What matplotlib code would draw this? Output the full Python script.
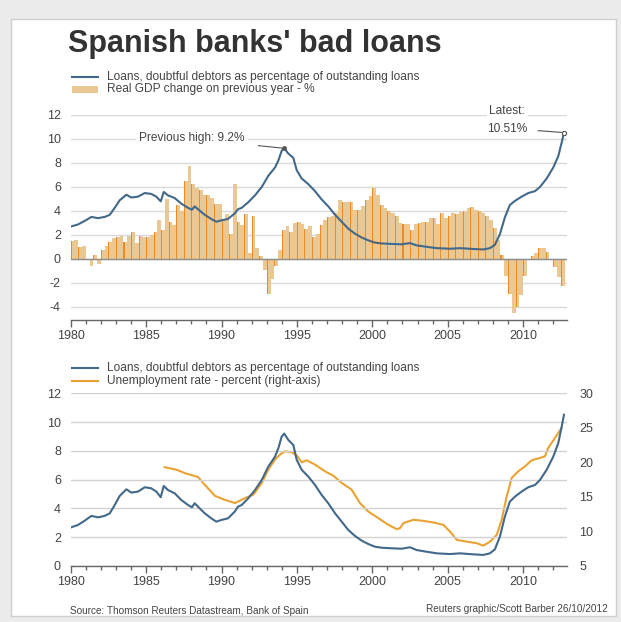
import matplotlib
matplotlib.use("Agg")
import matplotlib.pyplot as plt
import numpy as np
from matplotlib.lines import Line2D
from matplotlib.patches import Rectangle
from matplotlib.ticker import MultipleLocator, FixedLocator

plt.rcParams['font.family'] = ['Liberation Sans', 'DejaVu Sans']
plt.rcParams['axes.unicode_minus'] = False

# ---------------- data ----------------
loans_year = [1980.04, 1980.48, 1980.93, 1981.37, 1981.81, 1982.25, 1982.59, 1982.92, 1983.25, 1983.69,
              1984.02, 1984.46, 1984.91, 1985.34, 1985.68, 1985.97, 1986.17, 1986.45, 1986.90, 1987.33,
              1987.78, 1988.04, 1988.22, 1988.55, 1988.89, 1989.32, 1989.66, 1989.99, 1990.43, 1990.88,
              1991.09, 1991.34, 1991.78, 1992.22, 1992.67, 1993.10, 1993.55, 1993.77, 1993.99, 1994.16,
              1994.43, 1994.76, 1994.99, 1995.32, 1995.76, 1996.2, 1996.64, 1997.08, 1997.53, 1997.97,
              1998.41, 1998.85, 1999.30, 1999.73, 2000.18, 2000.62, 2001.29, 2001.95, 2002.5, 2002.94,
              2003.61, 2004.27, 2005.15, 2005.82, 2006.7, 2007.36, 2007.8, 2008.13, 2008.46, 2008.79,
              2009.12, 2009.46, 2009.9, 2010.34, 2010.79, 2011.12, 2011.56, 2012.0, 2012.33, 2012.56, 2012.71]
loans_val = [2.69, 2.85, 3.15, 3.48, 3.38, 3.48, 3.66, 4.24, 4.87, 5.33,
             5.1, 5.17, 5.47, 5.4, 5.17, 4.78, 5.56, 5.28, 5.05, 4.59,
             4.24, 4.08, 4.36, 4.01, 3.66, 3.31, 3.08, 3.2, 3.31, 3.78,
             4.12, 4.24, 4.71, 5.28, 5.98, 6.9, 7.6, 8.18, 8.99, 9.2,
             8.76, 8.41, 7.37, 6.68, 6.21, 5.63, 4.94, 4.36, 3.66, 3.08,
             2.5, 2.09, 1.76, 1.53, 1.34, 1.27, 1.23, 1.2, 1.3, 1.11,
             0.99, 0.88, 0.83, 0.88, 0.81, 0.77, 0.88, 1.16, 2.04, 3.43,
             4.47, 4.82, 5.17, 5.47, 5.63, 5.98, 6.68, 7.6, 8.53, 9.69, 10.51]

# quarterly real GDP change, 1980Q1 .. 2012Q3
gdp_start = 1980.0
gdp_val = [1.5, 1.6, 1.0, 1.1,   -0.1, -0.6, 0.3, -0.4,   0.7, 1.1, 1.4, 1.7,   1.8, 1.9, 1.4, 1.9,
           2.2, 1.3, 1.9, 1.8,   1.8, 2.0, 2.2, 3.2,     2.4, 5.0, 3.1, 2.8,   4.5, 4.0, 6.5, 7.7,
           6.2, 5.9, 5.7, 5.3,   5.3, 5.1, 4.6, 4.6,     3.2, 3.7, 2.1, 6.2,   3.1, 2.8, 3.7, 0.5,
           3.6, 0.9, 0.2, -0.9,  -2.9, -1.7, -0.6, 0.7,  2.4, 2.7, 2.2, 3.0,   3.1, 2.9, 2.5, 2.7,
           1.8, 2.1, 2.8, 3.2,   3.5, 3.6, 3.8, 4.9,     4.7, 4.7, 4.7, 4.1,   4.1, 4.4, 4.9, 5.2,
           5.9, 5.3, 4.5, 4.2,   4.0, 3.8, 3.6, 3.0,     2.9, 2.9, 2.4, 2.9,   3.0, 3.1, 3.1, 3.4,
           3.4, 2.9, 3.8, 3.4,   3.6, 3.8, 3.7, 3.9,     4.0, 4.2, 4.3, 4.1,   4.0, 3.8, 3.6, 3.2,
           2.6, 1.6, 0.3, -1.4,  -2.9, -4.5, -4.0, -3.0, -1.4, -0.1, 0.2, 0.5, 0.9, 0.9, 0.6, 0.0,
           -0.7, -1.5, -2.3]

unemp_year = [1986.23, 1987.0, 1987.67, 1988.44, 1988.89, 1989.55, 1990.21, 1990.9, 1991.56, 1992.11,
              1992.67, 1993.1, 1993.55, 1993.88, 1994.21, 1994.66, 1994.99, 1995.32, 1995.65, 1996.2,
              1996.86, 1997.41, 1997.97, 1998.63, 1999.18, 1999.73, 2000.4, 2001.06, 2001.62, 2001.84,
              2002.06, 2002.72, 2003.38, 2004.05, 2004.71, 2005.15, 2005.6, 2006.26, 2006.92, 2007.36,
              2007.81, 2008.25, 2008.58, 2008.91, 2009.24, 2009.68, 2010.13, 2010.57, 2011.12, 2011.45,
              2011.67, 2012.12, 2012.56]
unemp_val = [19.3, 18.95, 18.37, 17.89, 16.77, 15.17, 14.59, 14.11, 14.84, 15.32,
             17.02, 18.95, 20.41, 21.13, 21.61, 21.47, 20.99, 20.01, 20.3, 19.68,
             18.71, 18.08, 17.02, 16.05, 14.11, 12.89, 11.93, 10.96, 10.33, 10.48,
             11.2, 11.69, 11.54, 11.3, 10.96, 9.99, 8.78, 8.53, 8.3, 7.95,
             8.53, 9.51, 11.69, 15.07, 17.75, 18.71, 19.43, 20.3, 20.65, 20.89,
             22.1, 23.56, 25.01]

year_ticks = [1980, 1985, 1990, 1995, 2000, 2005, 2010]
top_yticks = [-4, -2, 0, 2, 4, 6, 8, 10, 12]
bot_yticks = [0, 2, 4, 6, 8, 10, 12]
right_yticks = [5, 10, 15, 20, 25, 30]

title = "Spanish banks' bad loans"
leg_loans = "Loans, doubtful debtors as percentage of outstanding loans"
leg_gdp = "Real GDP change on previous year - %"
leg_unemp = "Unemployment rate - percent (right-axis)"
note_prev = "Previous high: 9.2%"
note_latest1 = "Latest:"
note_latest2 = "10.51%"
source = "Source: Thomson Reuters Datastream, Bank of Spain"
credit = "Reuters graphic/Scott Barber 26/10/2012"

# ---------------- style ----------------
BLUE = '#43698a'
ORANGE_LINE = '#eba232'
TAN = '#eac893'
STRIPE = '#ec8b25'
GRID = '#d9d9d9'
TXT = '#444444'

W, H = 621, 622
def fx(px): return px / W
def fy(py): return 1 - py / H

fig = plt.figure(figsize=(W / 100, H / 100), dpi=100)
fig.patch.set_facecolor('#ececec')
fig.patches.append(Rectangle((fx(11), fy(616)), (616 - 11) / W, (616 - 19) / H,
                             transform=fig.transFigure, facecolor='white',
                             edgecolor='#cfcfcf', lw=1, zorder=-10))

XL, XR = 70.7, 567.0
xmin = 1980.0
xmax = 1980.0 + (XR - XL) / 15.08

def style_xaxis(ax):
    ax.set_xlim(xmin, xmax)
    ax.xaxis.set_major_locator(FixedLocator(year_ticks))
    ax.xaxis.set_minor_locator(MultipleLocator(1))
    ax.tick_params(axis='x', which='major', length=5, width=1, color='#666666',
                   labelsize=9, labelcolor=TXT, pad=2)
    ax.tick_params(axis='x', which='minor', length=3, width=1, color='#666666')
    for s in ['top', 'left', 'right']:
        ax.spines[s].set_visible(False)
    ax.spines['bottom'].set_color('#666666')
    ax.spines['bottom'].set_linewidth(1)

# ---------------- top chart ----------------
ax1 = fig.add_axes([fx(XL), fy(319.9), (XR - XL) / W, (319.9 - 114.7) / H])
ax1.set_facecolor('none')
ax1.set_ylim(-5.1, 12)
style_xaxis(ax1)
ax1.set_yticks(top_yticks)
ax1.tick_params(axis='y', length=0, labelsize=9, labelcolor=TXT, pad=7)
ax1.grid(axis='y', color=GRID, lw=1)
ax1.set_axisbelow(True)

gdp_x = gdp_start + 0.25 * np.arange(len(gdp_val))
ax1.bar(gdp_x, gdp_val, width=0.25, align='edge', color=TAN, lw=0, zorder=2)
stripe_idx = np.arange(0, len(gdp_val), 2)
ax1.bar(gdp_x[stripe_idx], np.array(gdp_val)[stripe_idx], width=0.07, align='edge',
        color=STRIPE, lw=0, zorder=2.5)
ax1.axhline(0, color='#8c8c8c', lw=1, zorder=3)
ax1.plot(loans_year, loans_val, color=BLUE, lw=1.5, zorder=4, solid_joinstyle='round')

# annotations
ax1.text(1988.05, 10.05, note_prev, ha='center', va='center', fontsize=8.6, color=TXT,
         bbox=dict(facecolor='white', edgecolor='none', pad=2.5), zorder=3.5)
ax1.plot([1992.45, 1994.16], [9.42, 9.2], color='#555555', lw=0.8, zorder=5)
ax1.plot([1994.16], [9.2], 'o', ms=2.5, color='#555555', zorder=5)
ax1.text(2008.95, 12.3, note_latest1, ha='center', va='center', fontsize=8.6, color=TXT,
         bbox=dict(facecolor='white', edgecolor='none', pad=2), zorder=3.5)
ax1.text(2008.95, 10.78, note_latest2, ha='center', va='center', fontsize=8.6, color=TXT,
         bbox=dict(facecolor='white', edgecolor='none', pad=2), zorder=3.5)
ax1.plot([2011.0, 2012.71], [10.67, 10.51], color='#555555', lw=0.8, zorder=5)
ax1.plot([2012.71], [10.51], 'o', ms=3, mfc='white', mec='#555555', mew=0.8, zorder=6)

# ---------------- bottom chart ----------------
ax2 = fig.add_axes([fx(XL), fy(566), (XR - XL) / W, (566 - 393.3) / H])
ax2.set_facecolor('none')
ax2.set_ylim(0, 12)
style_xaxis(ax2)
ax2.set_yticks(bot_yticks)
ax2.tick_params(axis='y', length=0, labelsize=9, labelcolor=TXT, pad=7)
ax2.grid(axis='y', color='#d2d2d2', lw=1)
ax2.set_axisbelow(True)

ax3 = ax2.twinx()
ax3.set_ylim(5, 30)
ax3.set_yticks(right_yticks)
ax3.tick_params(axis='y', length=0, labelsize=9, labelcolor=TXT, pad=9)
for s in ['top', 'left', 'right', 'bottom']:
    ax3.spines[s].set_visible(False)
ax3.plot(unemp_year, unemp_val, color=ORANGE_LINE, lw=1.5, zorder=3)

ax2.set_zorder(ax3.get_zorder() + 1)
ax2.patch.set_visible(False)
ax2.plot(loans_year, loans_val, color=BLUE, lw=1.5, zorder=4)

# ---------------- texts / legends ----------------
fig.text(fx(68), fy(44), title, fontsize=22, fontweight='bold', color='#333333',
         ha='left', va='center')

def leg_line(y, color, label):
    fig.add_artist(Line2D([fx(72), fx(98)], [fy(y), fy(y)], color=color, lw=1.5,
                          transform=fig.transFigure))
    fig.text(fx(107), fy(y), label, fontsize=8.6, color=TXT, ha='left', va='center')

leg_line(77, BLUE, leg_loans)
fig.patches.append(Rectangle((fx(72), fy(93)), 26 / W, 7 / H, transform=fig.transFigure,
                             facecolor=TAN, edgecolor='none'))
fig.text(fx(107), fy(89), leg_gdp, fontsize=8.6, color=TXT, ha='left', va='center')

leg_line(368, BLUE, leg_loans)
leg_line(381, ORANGE_LINE, leg_unemp)

fig.text(fx(70), fy(611), source, fontsize=7.2, color=TXT, ha='left', va='center')
fig.text(fx(608), fy(609), credit, fontsize=7.2, color=TXT, ha='right', va='center')

fig.savefig('out.png', dpi=100, facecolor=fig.get_facecolor())
